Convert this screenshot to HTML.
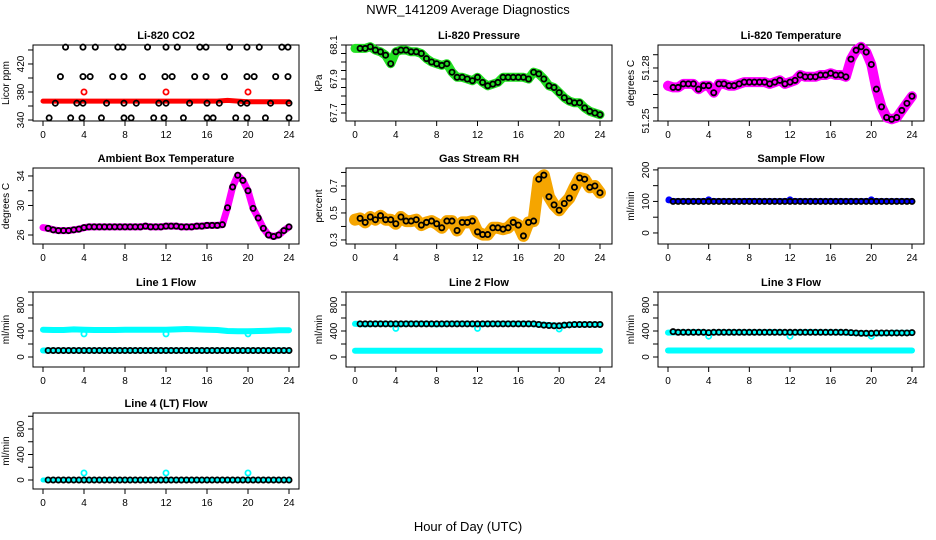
<!DOCTYPE html>
<html><head><meta charset="utf-8">
<style>
html,body{margin:0;padding:0;background:#fff;}
svg{display:block;font-family:"Liberation Sans",sans-serif;}
</style></head>
<body>
<svg id="c" width="936" height="540" viewBox="0 0 936 540" xmlns="http://www.w3.org/2000/svg">
<rect width="936" height="540" fill="#fff"/>
<text x="468" y="14" text-anchor="middle" font-size="13">NWR_141209  Average Diagnostics</text>
<text x="468" y="531" text-anchor="middle" font-size="13">Hour of Day (UTC)</text>
</svg>
<script>
// ---- data ----
const hours = [0.5,1,1.5,2,2.5,3,3.5,4,4.5,5,5.5,6,6.5,7,7.5,8,8.5,9,9.5,10,10.5,11,11.5,12,12.5,13,13.5,14,14.5,15,15.5,16,16.5,17,17.5,18,18.5,19,19.5,20,20.5,21,21.5,22,22.5,23,23.5,24];
const bandHours = [0,1,2,3,4,5,6,7,8,9,10,11,12,13,14,15,16,17,18,19,20,21,22,23,24];
const outlierHours = [4,12,20];

const co2TopHours = [2.2,3.9,5.1,7.3,7.8,10.2,12.0,13.1,15.3,15.9,18.2,19.9,21.1,23.3,23.9];
const co2Row402Hours = [1.7,3.9,4.6,6.8,7.9,9.7,11.9,12.6,14.8,15.9,17.7,19.9,20.6,22.7,23.9];
const co2Row364Hours = [1.2,3.3,3.9,6.2,7.9,9.1,11.3,12.0,14.3,16.0,17.2,19.3,19.9,22.2,24.0];
const co2Row343Hours = [0.6,2.7,3.8,5.7,7.9,8.6,10.8,11.8,13.7,16.0,16.6,18.8,19.9,21.7,24.0];
const co2Levels = [444,402,364,343];
const co2Band = [367,367,367,367,367,367,367,367,367,367,367,367,367,367,367,367,367,367,368,367,366,366,366,366,366];
const co2RedOutliers = [380,380,380];

const pressure = [68.08,68.08,68.09,68.07,68.06,68.04,67.99,68.06,68.07,68.07,68.06,68.06,68.05,68.02,68.00,67.99,67.98,67.99,67.94,67.91,67.91,67.90,67.89,67.91,67.88,67.86,67.87,67.88,67.91,67.91,67.91,67.91,67.91,67.90,67.94,67.93,67.90,67.86,67.85,67.82,67.79,67.77,67.76,67.76,67.73,67.71,67.70,67.69];
const liTemp = [51.269,51.269,51.271,51.271,51.271,51.268,51.270,51.270,51.266,51.271,51.271,51.270,51.270,51.271,51.272,51.272,51.272,51.272,51.272,51.271,51.272,51.273,51.271,51.272,51.273,51.276,51.275,51.275,51.275,51.276,51.276,51.277,51.276,51.276,51.275,51.285,51.290,51.292,51.289,51.282,51.268,51.258,51.252,51.251,51.252,51.256,51.260,51.264];
const ambient = [26.9,26.7,26.6,26.6,26.6,26.7,26.8,27.0,27.1,27.1,27.1,27.1,27.1,27.1,27.1,27.1,27.1,27.1,27.1,27.2,27.1,27.1,27.1,27.2,27.2,27.2,27.1,27.1,27.1,27.2,27.2,27.3,27.3,27.3,27.4,29.7,32.5,34.1,33.4,32.0,29.6,28.3,26.9,26.0,25.8,26.0,26.6,27.1];
const rh = [0.46,0.43,0.47,0.45,0.48,0.45,0.45,0.42,0.47,0.44,0.44,0.45,0.41,0.43,0.44,0.42,0.39,0.44,0.44,0.37,0.43,0.43,0.44,0.36,0.34,0.34,0.39,0.39,0.38,0.39,0.43,0.41,0.33,0.43,0.44,0.75,0.78,0.62,0.56,0.52,0.57,0.61,0.69,0.76,0.75,0.69,0.70,0.65];

const sampleFlow = [100,100,100,100,100,100,100,100,100,100,100,100,100,100,100,100,100,100,100,100,100,100,100,100,100,100,100,100,100,100,100,100,100,100,100,100,100,100,100,100,100,100,100,100,100,100,100,100];
const sampleBand = [103,102,102,102,103,102,102,102,103,102,102,102,103,102,102,102,102,102,102,102,103,102,102,102,102];
const sampleOutliers = [105,105,105];

const line1Black = [100,100,100,100,100,100,100,100,100,100,100,100,100,100,100,100,100,100,100,100,100,100,100,100,100,100,100,100,100,100,100,100,100,100,100,100,100,100,100,100,100,100,100,100,100,100,100,100];
const line1Upper = [420,415,415,425,420,415,415,415,420,420,420,420,420,425,430,425,420,415,400,395,395,400,405,410,410];
const line1Lower = [100,100,100,100,100,100,100,100,100,100,100,100,100,100,100,100,100,100,100,100,100,100,100,100,100];
const line1Outliers = [355,355,355];

const line2Black = [510,510,510,510,510,510,510,510,510,510,510,510,510,510,510,510,510,510,510,510,510,510,510,510,510,510,510,510,510,510,510,510,510,510,510,500,490,485,480,480,490,495,500,500,500,500,500,500];
const line2Upper = [510,505,510,510,505,510,510,510,505,510,510,510,505,510,510,510,510,510,500,490,480,495,500,500,500];
const line2Lower = [95,95,95,95,95,95,95,95,95,95,95,95,95,95,95,95,95,95,95,95,95,95,95,95,95];
const line2Outliers = [440,440,430];

const line3Black = [390,380,380,380,380,380,380,375,380,380,380,380,380,380,380,380,380,380,380,380,380,380,380,380,380,380,380,380,380,380,380,380,380,380,380,375,370,365,365,365,370,370,370,370,370,370,370,375];
const line3Upper = [375,380,380,385,375,380,380,380,380,380,385,380,375,380,385,380,380,380,370,365,360,365,370,370,370];
const line3Lower = [100,100,100,100,100,100,100,100,100,100,100,100,100,100,100,100,100,100,100,100,100,100,100,100,100];
const line3Outliers = [320,320,320];

const line4Black = [0,0,0,0,0,0,0,0,0,0,0,0,0,0,0,0,0,0,0,0,0,0,0,0,0,0,0,0,0,0,0,0,0,0,0,0,0,0,0,0,0,0,0,0,0,0,0,0];
const line4Band = [0,0,0,0,0,0,0,0,0,0,0,0,0,0,0,0,0,0,0,0,0,0,0,0,0];
const line4Outliers = [110,110,110];

const xTicks = [0,4,8,12,16,20,24];

// ---- drawing ----
const svg = document.getElementById('c');
const NS = 'http://www.w3.org/2000/svg';
function mk(tag, attrs, parent){
  const e = document.createElementNS(NS, tag);
  for (const k in attrs) e.setAttribute(k, attrs[k]);
  (parent||svg).appendChild(e);
  return e;
}
const cols = [{x0:33,x1:299,h0:43,h24:289},{x0:346,x1:612,h0:355,h24:600},{x0:658,x1:924,h0:668,h24:912}];
const rows = [{y0:45,y1:121},{y0:168,y1:244},{y0:292,y1:367},{y0:413,y1:489}];

function panel(name, title, ylab, c, r, ylim, ticks, labels, fmt){
  const C = cols[c], R = rows[r];
  const g = mk('g', {});
  
  
  const X = h => C.h0 + (h/24)*(C.h24-C.h0);
  const Y = v => R.y1 - (v-ylim[0])/(ylim[1]-ylim[0])*(R.y1-R.y0);
  const t = mk('text', {x:(C.x0+C.x1)/2, y:R.y0-6, 'text-anchor':'middle', 'font-size':11, 'font-weight':'bold'}, g);
  t.textContent = title;
  
  
  const yl = mk('text', {x:0, y:0, 'text-anchor':'middle', 'font-size':10, transform:`translate(${C.x0-24},${(R.y0+R.y1)/2}) rotate(-90)`}, g);
  yl.textContent = ylab;
  
  
  const ya = mk('g', {}, g);
  
  
  mk('line', {x1:C.x0, x2:C.x0, y1:Y(ticks[0]), y2:Y(ticks[ticks.length-1]), stroke:'#000'}, ya);
  ticks.forEach(v => {
    mk('line', {x1:C.x0-5, x2:C.x0, y1:Y(v), y2:Y(v), stroke:'#000'}, ya);
  });
  labels.forEach(v => {
    const tl = mk('text', {x:0, y:0, 'text-anchor':'middle', 'font-size':10, transform:`translate(${C.x0-9},${Y(v)}) rotate(-90)`}, ya);
    tl.textContent = fmt ? fmt(v) : String(v);
    
    
  });
  const xa = mk('g', {}, g);
  
  
  mk('line', {x1:X(0), x2:X(24), y1:R.y1, y2:R.y1, stroke:'#000'}, xa);
  xTicks.forEach(h => {
    mk('line', {x1:X(h), x2:X(h), y1:R.y1, y2:R.y1+5, stroke:'#000'}, xa);
    const tl = mk('text', {x:X(h), y:R.y1+17, 'text-anchor':'middle', 'font-size':10}, xa);
    tl.textContent = h;
    
    
  });
  const box = mk('rect', {x:C.x0, y:R.y0, width:C.x1-C.x0, height:R.y1-R.y0, fill:'none', stroke:'#000'}, g);
  
  
  const plot = mk('g', {}, g);
  
  
  return {X, Y, g:plot};
}
function band(p, xs, vs, color, w, name){
  const d = xs.map((h,i)=>(i?'L':'M')+p.X(h).toFixed(1)+','+p.Y(vs[i]).toFixed(1)).join('');
  const e = mk('path', {d, fill:'none', stroke:color, 'stroke-width':w, 'stroke-linejoin':'round', 'stroke-linecap':'round'}, p.g);
  
  
}
function pts(p, xs, vs, color, name, r){
  const gg = mk('g', {}, p.g);
  
  
  xs.forEach((h,i)=>{
    const e = mk('circle', {cx:p.X(h), cy:p.Y(vs[i]), r:r||2.6, fill:'none', stroke:color, 'stroke-width':1.8}, gg);
    
    
  });
}
function fixed(n){ return v => v.toFixed(n); }

let p = panel('co2-panel','Li-820 CO2','Licor ppm',0,0,[338.6,447.1],[340,360,380,400,420,440],[340,380,420]);
band(p, bandHours, co2Band, '#ff0000', 5, 'co2-band');
pts(p, outlierHours, co2RedOutliers, '#ff0000', 'co2-red-outliers');
[co2TopHours,co2Row402Hours,co2Row364Hours,co2Row343Hours].forEach((hs,k)=>{
  pts(p, hs, hs.map(()=>co2Levels[k]), '#000', 'co2-black-points');
});
p = panel('pressure-panel','Li-820 Pressure','kPa',1,0,[67.653,68.1],[67.7,67.75,67.8,67.85,67.9,67.95,68.0,68.05,68.1],[67.7,67.9,68.1],fixed(1));
band(p, [0].concat(hours), [68.08].concat(pressure), '#22e022', 9, 'pressure-band');
pts(p, hours, pressure, '#000', 'pressure-points');
p = panel('li-temp-panel','Li-820 Temperature','degrees C',2,0,[51.25,51.293],[51.25,51.2575,51.265,51.2725,51.28,51.2875],[51.25,51.28],fixed(2));
band(p, [0].concat(hours), [51.270].concat(liTemp), '#ff00ff', 10, 'li-temp-band');
pts(p, hours, liTemp, '#000', 'li-temp-points');
p = panel('ambient-panel','Ambient Box Temperature','degrees C',0,1,[24.78,35.08],[26,28,30,32,34],[26,30,34]);
band(p, [0].concat(hours), [27.0].concat(ambient), '#ff00ff', 7, 'ambient-band');
pts(p, hours, ambient, '#000', 'ambient-points');
p = panel('rh-panel','Gas Stream RH','percent',1,1,[0.27,0.833],[0.3,0.4,0.5,0.6,0.7,0.8],[0.3,0.5,0.7],fixed(1));
band(p, [0].concat(hours), [0.45].concat(rh), '#f5a500', 12, 'rh-band');
pts(p, hours, rh, '#000', 'rh-points');
p = panel('sample-flow-panel','Sample Flow','ml/min',2,1,[-35,206],[0,50,100,150,200],[0,100,200]);
band(p, bandHours, sampleBand, '#0000ff', 5, 'sample-band');
pts(p, [0.1].concat(outlierHours), [105].concat(sampleOutliers), '#0000ff', 'sample-outliers');
pts(p, hours, sampleFlow, '#000', 'sample-points');
const flowTicks = [0,200,400,600,800,1000], flowLabels = [0,400,800];
p = panel('line1-panel','Line 1 Flow','ml/min',0,2,[-154,1000],flowTicks,flowLabels);
band(p, bandHours, line1Upper, '#00ffff', 6, 'line1-upper-band');
band(p, bandHours, line1Lower, '#00ffff', 6, 'line1-lower-band');
pts(p, outlierHours, line1Outliers, '#00ffff', 'line1-outliers');
pts(p, hours, line1Black, '#000', 'line1-points');
p = panel('line2-panel','Line 2 Flow','ml/min',1,2,[-154,1000],flowTicks,flowLabels);
band(p, bandHours, line2Upper, '#00ffff', 6, 'line2-upper-band');
band(p, bandHours, line2Lower, '#00ffff', 6, 'line2-lower-band');
pts(p, outlierHours, line2Outliers, '#00ffff', 'line2-outliers');
pts(p, hours, line2Black, '#000', 'line2-points');
p = panel('line3-panel','Line 3 Flow','ml/min',2,2,[-154,1000],flowTicks,flowLabels);
band(p, bandHours, line3Upper, '#00ffff', 6, 'line3-upper-band');
band(p, bandHours, line3Lower, '#00ffff', 6, 'line3-lower-band');
pts(p, outlierHours, line3Outliers, '#00ffff', 'line3-outliers');
pts(p, hours, line3Black, '#000', 'line3-points');
p = panel('line4-panel','Line 4 (LT) Flow','ml/min',0,3,[-141,1051],flowTicks,flowLabels);
band(p, bandHours, line4Band, '#00ffff', 5, 'line4-band');
pts(p, outlierHours, line4Outliers, '#00ffff', 'line4-outliers');
pts(p, hours, line4Black, '#000', 'line4-points');
</script>
</body></html>
